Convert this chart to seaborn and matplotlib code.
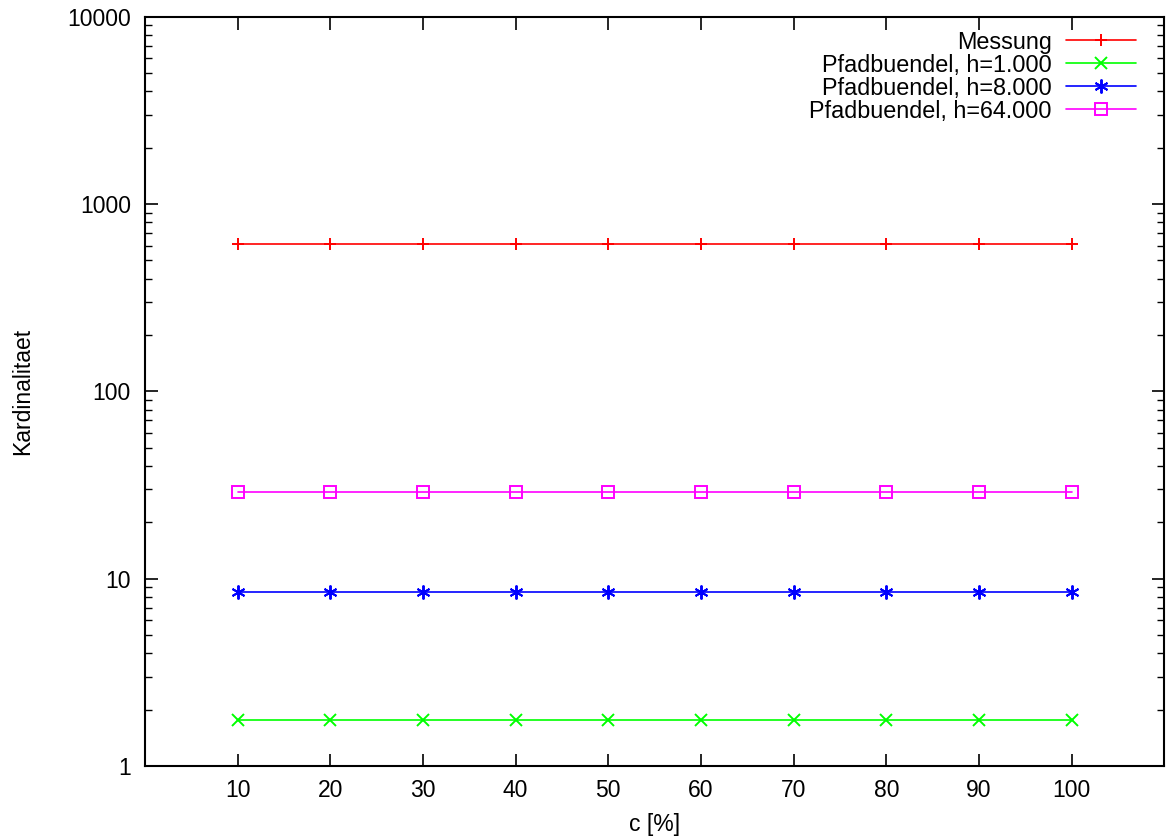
import seaborn as sns
import numpy as np
import pandas as pd
from matplotlib import pyplot as plt
from matplotlib.ticker import FixedLocator, LogLocator, NullFormatter, FuncFormatter

# Werte
c_prozent = [10, 20, 30, 40, 50, 60, 70, 80, 90, 100]
messung = [611, 611, 611, 611, 611, 611, 611, 611, 611, 611]
pb_h1 = [1.76, 1.76, 1.76, 1.76, 1.76, 1.76, 1.76, 1.76, 1.76, 1.76]
pb_h8 = [8.5, 8.5, 8.5, 8.5, 8.5, 8.5, 8.5, 8.5, 8.5, 8.5]
pb_h64 = [29.1, 29.1, 29.1, 29.1, 29.1, 29.1, 29.1, 29.1, 29.1, 29.1]

sns.set_style("ticks")
plt.rcParams['font.family'] = ['Liberation Sans', 'DejaVu Sans']
plt.rcParams['font.size'] = 16.5
plt.rcParams['text.color'] = 'black'
plt.rcParams['axes.labelcolor'] = 'black'

fig = plt.figure(figsize=(11.68, 8.39), dpi=100)
ax = fig.add_axes([0.124, 0.087, 0.873, 0.893])

asterisk = (6, 2, 0)
serien = [
  ('Messung', messung, '#ff0000', '+', 'full', 9),
  ('Pfadbuendel, h=1.000', pb_h1, '#00ff00', 'x', 'full', 8),
  ('Pfadbuendel, h=8.000', pb_h8, '#0000ff', asterisk, 'full', 10),
  ('Pfadbuendel, h=64.000', pb_h64, '#ff00ff', 's', 'none', 8),
]

for name, werte, farbe, marker, fill, ms in serien:
  df = pd.DataFrame({'c': c_prozent, 'k': werte})
  sns.lineplot(data=df, x='c', y='k', ax=ax, color=farbe, label=name,
               marker=marker, markersize=ms, markeredgewidth=1.4,
               fillstyle=fill, markerfacecolor='none' if fill == 'none' else farbe,
               markeredgecolor=farbe, linewidth=1.2)

ax.set_yscale('log')
ax.set_ylim(1, 10000)
ax.set_xlim(0, 110)
ax.xaxis.set_major_locator(FixedLocator(c_prozent))
ax.yaxis.set_major_locator(LogLocator(base=10, numticks=10))
ax.yaxis.set_minor_locator(LogLocator(base=10, subs=np.arange(2, 10), numticks=10))
ax.yaxis.set_minor_formatter(NullFormatter())
ax.yaxis.set_major_formatter(FuncFormatter(lambda v, p: f'{int(round(v))}'))

ax.tick_params(axis='both', which='both', direction='in', top=True, right=True,
               labelsize=16.5, colors='black')
ax.tick_params(axis='y', pad=10)
ax.tick_params(axis='x', pad=9)
ax.tick_params(which='major', length=9, width=1.2)
ax.tick_params(which='minor', length=5, width=1.0)
for s in ax.spines.values():
  s.set_linewidth(1.5)
  s.set_color('black')

ax.set_xlabel('c [%]', fontsize=16.5, labelpad=8)
ax.set_ylabel('Kardinalitaet', fontsize=16.5, labelpad=24)

leg = ax.legend(loc='upper right', bbox_to_anchor=(0.981, 0.994), frameon=False,
                markerfirst=False, fontsize=16.8, handlelength=3.0, handletextpad=0.6,
                labelspacing=0.0, borderaxespad=0.0)

fig.savefig('out.png', dpi=100)
